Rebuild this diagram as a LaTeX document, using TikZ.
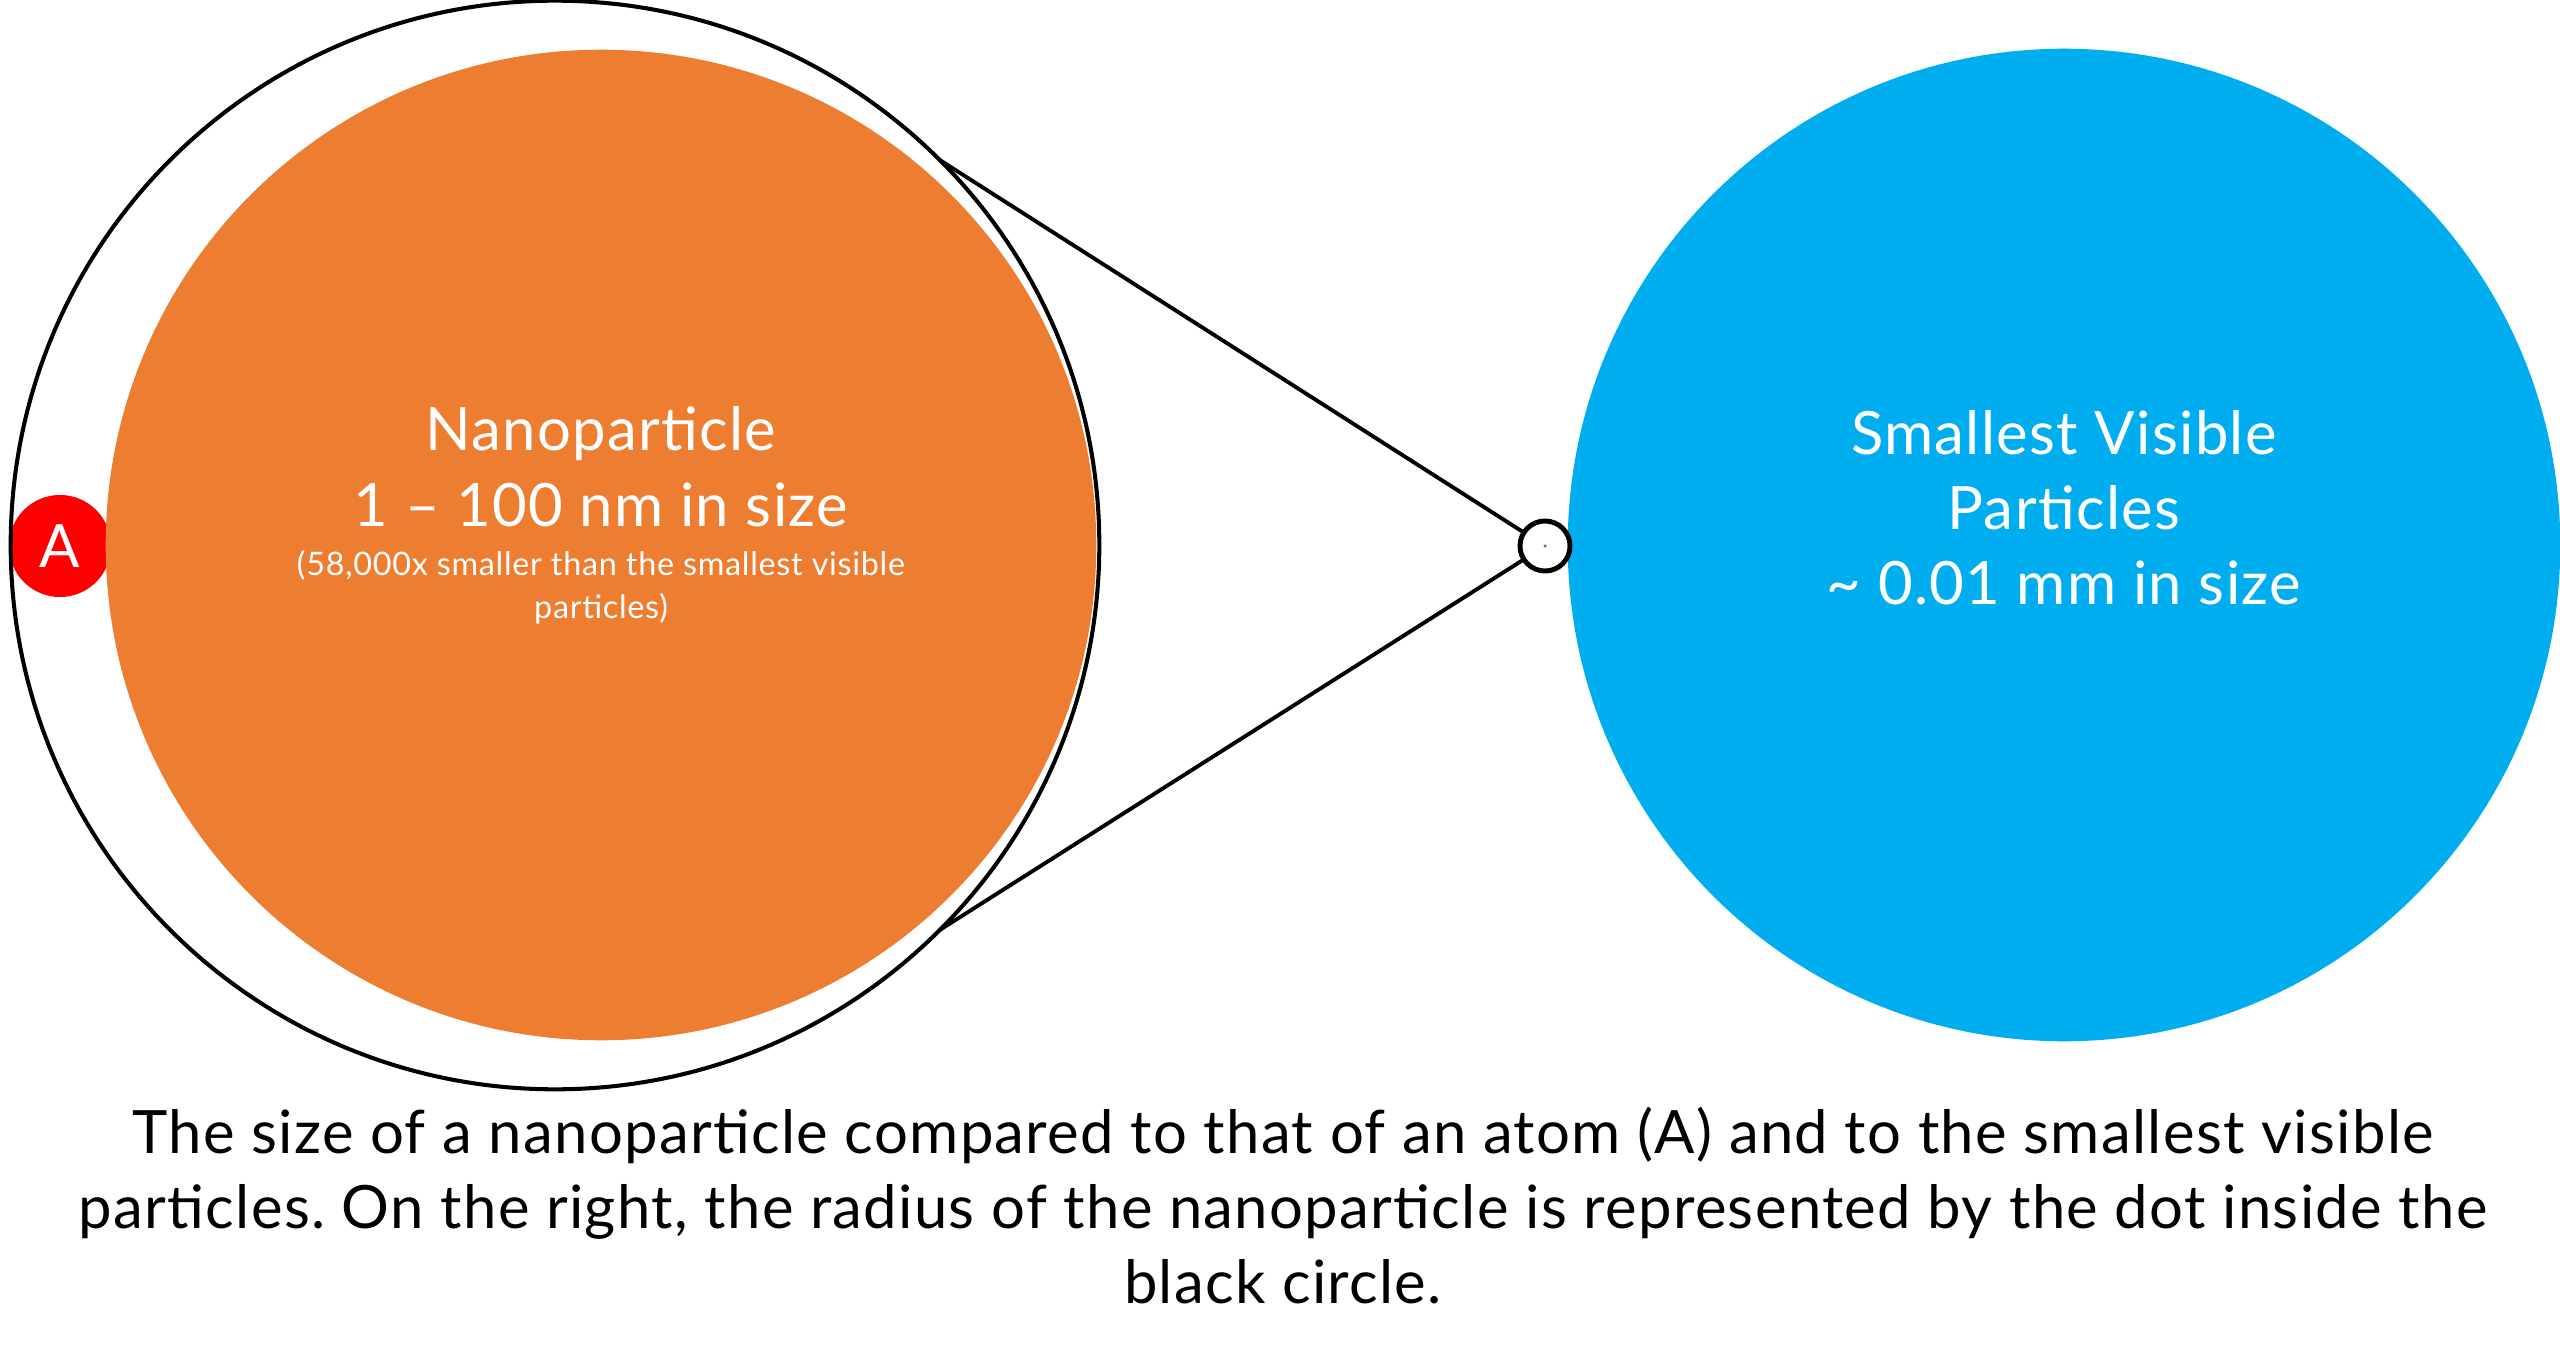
\documentclass[tikz,border=0pt]{standalone}
\usepackage{fontspec}
\setmainfont{Lato}[LetterSpace=2.2]
\usetikzlibrary{positioning}
\frenchspacing

\definecolor{nanoorange}{HTML}{ED7D31}
\definecolor{visibleblue}{HTML}{00AEEF}
\definecolor{atomred}{HTML}{FF0000}
\definecolor{dotblue}{HTML}{4A7DA6}

\tikzset{
  disk/.style={circle, inner sep=0pt, outer sep=0pt},
  bigtext/.style={font=\fontsize{17}{20}\selectfont, text=white, anchor=base, inner sep=0pt},
  smalltext/.style={font=\fontsize{9.2}{11}\selectfont, text=white, anchor=base, inner sep=0pt},
  captext/.style={font=\fontsize{17}{20}\selectfont, anchor=base, inner sep=0pt},
}

\begin{document}
\begin{tikzpicture}[x=0.01cm, y=-0.01cm]
    \useasboundingbox (0,0) rectangle (2560,1358);

    % Atomo y nanoparticula
    \node[disk, fill=atomred, minimum size=1.02cm, text=white,
          font=\fontsize{17}{20}\selectfont] (atom) at (60,546) {A};
    \node[disk, fill=nanoorange, minimum size=9.9cm] (nano) at (601,545) {};

    % Circulo negro que la rodea
    \node[disk, draw, line width=1.15pt, minimum size=10.88cm] (outline) at (555,545) {};

    % Particula visible mas pequena
    \node[disk, fill=visibleblue, minimum size=9.92cm] (visible) at (2064,545) {};

    % Circulo pequeno con el punto
    \node[disk, draw, fill=white, line width=1.4pt, minimum size=0.5cm] (ring) at (1545,546) {};
    \node[disk, fill=dotblue, minimum size=0.035cm] (dot) at (ring.center) {};

    % Lineas hacia el circulo pequeno
    \draw[line width=1.1pt] (outline.45) -- (ring);
    \draw[line width=1.1pt] (outline.-45) -- (ring);

    % Textos de la nanoparticula
    \node[bigtext] (nanoname) at (601,451) {Nanoparticle};
    \node[bigtext] (nanosize) at (601,527) {1 – 100 nm in size};
    \node[smalltext] (nanonote) at (601,575) {(58,000x smaller than the smallest visible};
    \node[smalltext] (nanonotb) at (601,618) {particles)};

    % Textos de la particula visible
    \node[bigtext] (visname) at (2064,455) {Smallest Visible};
    \node[bigtext] (visnamb) at (2064,530) {Particles};
    \node[bigtext] (vissize) at (2064,604) {\textasciitilde{} 0.01 mm in size};

    % Pie de figura
    \node[captext] (capa) at (1283,1153) {The size of a nanoparticle compared to that of an atom (A) and to the smallest visible};
    \node[captext] (capb) at (1283,1228) {particles. On the right, the radius of the nanoparticle is represented by the dot inside the};
    \node[captext] (capc) at (1283,1303) {black circle.};
\end{tikzpicture}
\end{document}
